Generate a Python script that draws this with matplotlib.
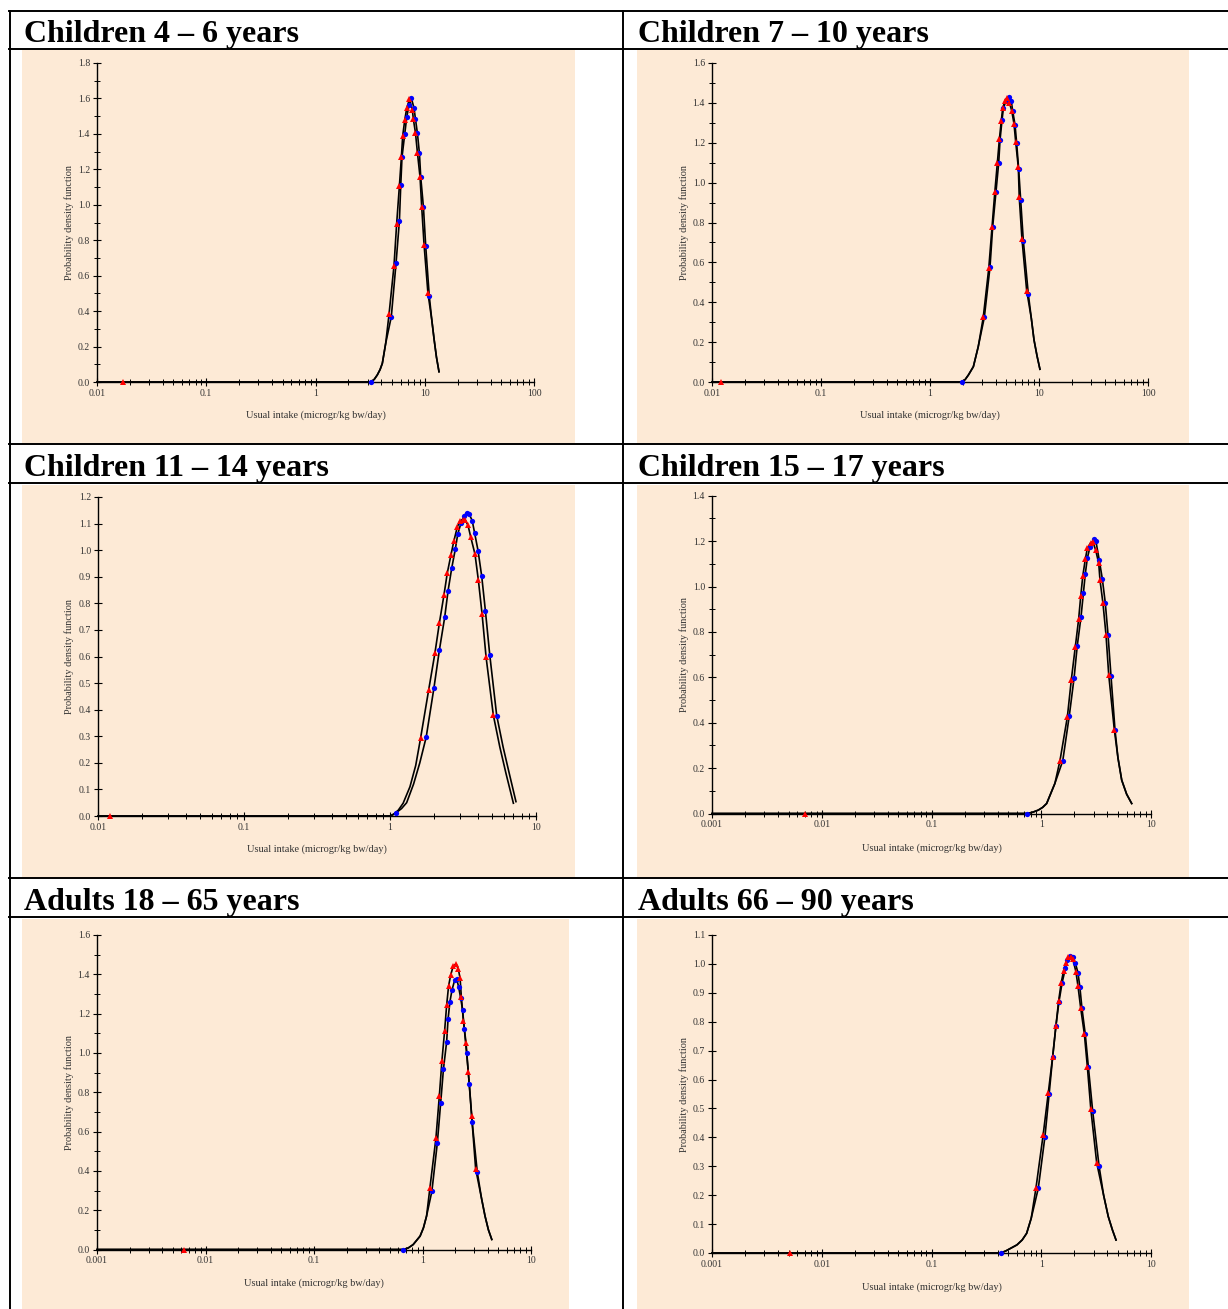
import matplotlib
matplotlib.use('Agg')
import matplotlib.pyplot as plt
from matplotlib.lines import Line2D
from matplotlib.patches import Rectangle
from matplotlib import ticker
import numpy as np

plt.rcParams['font.family'] = ['Liberation Serif', 'DejaVu Serif']

W, H = 1228, 1309
PEACH = '#FDEAD6'

titles = ['Children 4 \u2013 6 years', 'Children 7 \u2013 10 years',
          'Children 11 \u2013 14 years', 'Children 15 \u2013 17 years',
          'Adults 18 \u2013 65 years', 'Adults 66 \u2013 90 years']
x_label = 'Usual intake (microgr/kg bw/day)'
y_label = 'Probability density function'

# ---- Children 4-6 ----
p1_bx = [3.2, 4.94, 5.46, 5.86, 6.03, 6.19, 6.56, 6.84, 7.18, 7.55, 7.98, 8.22, 8.57, 8.94, 9.19, 9.73, 10.2, 11.0]
p1_by = [0.0, 0.368, 0.67, 0.909, 1.11, 1.268, 1.40, 1.494, 1.563, 1.60, 1.545, 1.484, 1.403, 1.29, 1.155, 0.986, 0.769, 0.485]
p1_rx = [0.0173, 4.71, 5.23, 5.53, 5.86, 6.11, 6.28, 6.56, 6.84, 7.24, 7.70, 7.87, 8.22, 8.57, 9.06, 9.38, 9.86, 10.7]
p1_ry = [0.0, 0.382, 0.656, 0.892, 1.106, 1.268, 1.388, 1.478, 1.545, 1.595, 1.535, 1.482, 1.407, 1.294, 1.155, 0.986, 0.773, 0.50]
p1_left = ([0.01, 3.2, 3.45, 3.68, 3.9, 4.09, 4.39], [0.0, 0.0, 0.015, 0.04, 0.07, 0.105, 0.218])
p1_right = ([11.6, 12.2, 12.8, 13.5], [0.35, 0.237, 0.14, 0.058])

# ---- Children 7-10 ----
p2_bx = [1.95, 3.15, 3.55, 3.76, 4.03, 4.27, 4.39, 4.58, 4.71, 4.98, 5.27, 5.57, 5.73, 6.03, 6.24, 6.51, 6.79, 7.18, 7.98]
p2_by = [0.0, 0.324, 0.575, 0.779, 0.954, 1.10, 1.214, 1.314, 1.372, 1.411, 1.431, 1.408, 1.361, 1.289, 1.197, 1.067, 0.913, 0.709, 0.441]
p2_rx = [0.0121, 3.08, 3.46, 3.71, 3.93, 4.15, 4.33, 4.51, 4.64, 4.88, 5.05, 5.35, 5.62, 5.90, 6.11, 6.46, 6.59, 6.98, 7.71]
p2_ry = [0.0, 0.324, 0.570, 0.779, 0.951, 1.10, 1.217, 1.31, 1.372, 1.411, 1.423, 1.401, 1.361, 1.294, 1.205, 1.077, 0.926, 0.716, 0.458]
p2_left = ([0.01, 1.95, 2.1, 2.25, 2.50, 2.77], [0.0, 0.0, 0.012, 0.035, 0.077, 0.177])
p2_right = ([8.5, 9.0, 9.6, 10.2], [0.32, 0.211, 0.13, 0.064])

# ---- Children 11-14 ----
p3_bx = [1.10, 1.77, 2.00, 2.18, 2.37, 2.50, 2.65, 2.80, 2.91, 3.06, 3.21, 3.35, 3.49, 3.66, 3.80, 4.01, 4.25, 4.50, 4.82, 5.38]
p3_by = [0.012, 0.297, 0.482, 0.625, 0.748, 0.848, 0.934, 1.003, 1.06, 1.101, 1.129, 1.141, 1.136, 1.11, 1.064, 0.998, 0.901, 0.773, 0.607, 0.378]
p3_rx = [0.0121, 1.62, 1.84, 2.03, 2.18, 2.34, 2.47, 2.61, 2.74, 2.89, 3.01, 3.14, 3.28, 3.42, 3.57, 3.82, 4.03, 4.27, 4.55, 5.10]
p3_ry = [0.0, 0.293, 0.474, 0.612, 0.727, 0.83, 0.915, 0.98, 1.035, 1.087, 1.11, 1.115, 1.113, 1.094, 1.05, 0.985, 0.887, 0.761, 0.598, 0.38]
p3_left_b = ([0.01, 1.0, 1.10, 1.20, 1.30, 1.45, 1.60], [0.0, 0.0, 0.012, 0.028, 0.05, 0.12, 0.2])
p3_left_r = ([0.01, 1.0, 1.05, 1.14, 1.23, 1.37, 1.50], [0.0, 0.0, 0.005, 0.022, 0.048, 0.11, 0.19])
p3_right_b = ([5.95, 6.56, 7.29], [0.26, 0.16, 0.054])
p3_right_r = ([5.65, 6.23, 7.0], [0.26, 0.16, 0.048])

# ---- Children 15-17 ----
p4_bx = [0.746, 1.57, 1.80, 1.99, 2.13, 2.30, 2.42, 2.52, 2.63, 2.78, 3.04, 3.15, 3.38, 3.60, 3.83, 4.06, 4.32, 4.70]
p4_by = [0.0, 0.232, 0.43, 0.596, 0.74, 0.864, 0.97, 1.056, 1.125, 1.174, 1.209, 1.199, 1.115, 1.034, 0.929, 0.787, 0.606, 0.368]
p4_rx = [0.00708, 1.48, 1.73, 1.88, 2.04, 2.19, 2.29, 2.39, 2.52, 2.63, 2.82, 2.95, 3.13, 3.34, 3.43, 3.65, 3.89, 4.12, 4.63]
p4_ry = [0.0, 0.232, 0.426, 0.59, 0.732, 0.855, 0.958, 1.046, 1.12, 1.168, 1.193, 1.197, 1.161, 1.102, 1.028, 0.926, 0.787, 0.61, 0.37]
p4_left = ([0.001, 0.746, 0.84, 0.94, 1.03, 1.12, 1.33], [0.0, 0.0, 0.006, 0.015, 0.027, 0.044, 0.132])
p4_right = ([5.0, 5.41, 6.0, 6.67], [0.245, 0.147, 0.085, 0.044])

# ---- Adults 18-65 ----
p5_bx = [0.666, 1.22, 1.37, 1.47, 1.56, 1.67, 1.72, 1.79, 1.87, 1.98, 2.07, 2.15, 2.25, 2.34, 2.43, 2.55, 2.70, 2.87, 3.20]
p5_by = [0.0, 0.296, 0.542, 0.745, 0.918, 1.058, 1.172, 1.261, 1.32, 1.371, 1.375, 1.337, 1.278, 1.219, 1.121, 0.999, 0.843, 0.647, 0.393]
p5_rx = [0.00634, 1.17, 1.33, 1.43, 1.51, 1.60, 1.67, 1.74, 1.82, 1.92, 2.04, 2.14, 2.22, 2.28, 2.38, 2.52, 2.64, 2.84, 3.09]
p5_ry = [0.0, 0.313, 0.567, 0.782, 0.96, 1.114, 1.244, 1.341, 1.397, 1.442, 1.453, 1.426, 1.38, 1.286, 1.165, 1.05, 0.905, 0.677, 0.41]
p5_left = ([0.001, 0.666, 0.74, 0.82, 0.95, 1.02, 1.09], [0.0, 0.0, 0.008, 0.025, 0.068, 0.11, 0.17])
p5_right = ([3.5, 3.77, 4.05, 4.35], [0.26, 0.17, 0.1, 0.051])

# ---- Adults 66-90 ----
p6_bx = [0.428, 0.94, 1.08, 1.18, 1.27, 1.36, 1.45, 1.55, 1.66, 1.73, 1.83, 1.94, 2.04, 2.16, 2.25, 2.35, 2.52, 2.69, 2.94, 3.36]
p6_by = [0.0, 0.224, 0.402, 0.55, 0.677, 0.785, 0.869, 0.935, 0.985, 1.013, 1.027, 1.025, 1.004, 0.97, 0.919, 0.846, 0.756, 0.642, 0.492, 0.302]
p6_rx = [0.00514, 0.896, 1.04, 1.16, 1.27, 1.36, 1.44, 1.52, 1.60, 1.68, 1.75, 1.85, 1.94, 2.07, 2.16, 2.29, 2.47, 2.63, 2.83, 3.20]
p6_ry = [0.0, 0.226, 0.408, 0.555, 0.679, 0.785, 0.872, 0.935, 0.977, 1.004, 1.023, 1.025, 1.016, 0.973, 0.924, 0.846, 0.758, 0.645, 0.497, 0.312]
p6_left = ([0.001, 0.428, 0.48, 0.60, 0.67, 0.736, 0.81], [0.0, 0.0, 0.008, 0.028, 0.045, 0.068, 0.12])
p6_right = ([3.7, 4.08, 4.45, 4.80], [0.2, 0.126, 0.08, 0.045])

# x decade ticks per panel
xt_01_100 = [0.01, 0.1, 1, 10, 100]
xl_01_100 = ['0.01', '0.1', '1', '10', '100']
xt_01_10 = [0.01, 0.1, 1, 10]
xl_01_10 = ['0.01', '0.1', '1', '10']
xt_001_10 = [0.001, 0.01, 0.1, 1, 10]
xl_001_10 = ['0.001', '0.01', '0.1', '1', '10']


def fx(x):
    return x / W


def fy(y):
    return 1 - y / H


fig = plt.figure(figsize=(W / 100, H / 100), dpi=100)
fig.patch.set_facecolor('white')

# table grid
lw_tab = 1.4
for y in [11, 48.5, 444, 483, 878, 917]:
    fig.add_artist(Line2D([fx(9), fx(1228)], [fy(y), fy(y)], color='black', lw=lw_tab,
                          transform=fig.transFigure))
for x in [10, 623]:
    fig.add_artist(Line2D([fx(x), fx(x)], [fy(11), fy(1309)], color='black', lw=lw_tab,
                          transform=fig.transFigure))

# peach backgrounds (x0, y0, x1, y1) in px
peach = [(22, 50, 575, 443), (637, 50, 1189, 443),
         (22, 485, 575, 877), (637, 485, 1189, 877),
         (22, 919, 569, 1309), (637, 919, 1189, 1309)]
for x0, y0, x1, y1 in peach:
    fig.add_artist(Rectangle((fx(x0), fy(y1)), fx(x1 - x0), (y1 - y0) / H,
                             facecolor=PEACH, edgecolor='none', transform=fig.transFigure,
                             zorder=0))

# titles
title_pos = [(24, 42), (638, 42), (24, 476), (638, 476), (24, 910), (638, 910)]
for t, (x, y) in zip(titles, title_pos):
    fig.text(fx(x), fy(y), t, fontsize=23, fontweight='bold', va='baseline', ha='left')


def panel(box, xlim, xt, xl, ymax, ystep, ylab_every, blue, red, lines, ylab_x, xlab_y):
    x0, x1, y0, y1 = box  # px: left, right, y at 0, y at ymax
    ax = fig.add_axes([fx(x0), fy(y0), (x1 - x0) / W, (y0 - y1) / H])
    ax.set_xscale('log')
    ax.set_xlim(*xlim)
    ax.set_ylim(0, ymax)
    ax.patch.set_alpha(0)
    for s in ['top', 'right']:
        ax.spines[s].set_visible(False)
    for s in ['left', 'bottom']:
        ax.spines[s].set_linewidth(1.0)
    ax.xaxis.set_major_locator(ticker.FixedLocator(xt))
    ax.xaxis.set_major_formatter(ticker.FixedFormatter(xl))
    ax.xaxis.set_minor_locator(ticker.LogLocator(base=10, subs=np.arange(2, 10)))
    ax.xaxis.set_minor_formatter(ticker.NullFormatter())
    yv = np.round(np.arange(0, ymax + 1e-9, ystep), 2)
    major = yv[::ylab_every]
    ax.yaxis.set_major_locator(ticker.FixedLocator(major))
    ax.yaxis.set_major_formatter(ticker.FixedFormatter([f'{v:.1f}' for v in major]))
    ax.yaxis.set_minor_locator(ticker.FixedLocator(yv))
    ax.tick_params(which='major', direction='inout', length=6, width=0.8,
                   labelsize=7, labelcolor='#333333', pad=2)
    ax.tick_params(which='minor', direction='inout', length=4, width=0.7)

    for lx, ly in lines:
        ax.plot(lx, ly, color='black', lw=1.2, zorder=2, clip_on=False)
    ax.plot(blue[0], blue[1], 'o', color='#0000FF', ms=3.8, mew=0, zorder=3, clip_on=False)
    ax.plot(red[0], red[1], '^', color='#FF0000', ms=4.6, mew=0, zorder=4, clip_on=False)

    fig.text(fx(ylab_x), fy((y0 + y1) / 2), y_label, rotation=90, fontsize=7.4,
             color='#333333', ha='center', va='center')
    fig.text(fx((x0 + x1) / 2), fy(xlab_y), x_label, fontsize=7.4,
             color='#333333', ha='center', va='center')
    return ax


def curve(left, pts_x, pts_y, right):
    # the markers sitting on each curve, joined with its tails
    keep = [(x, y) for x, y in zip(pts_x, pts_y) if left[0][-1] < x < right[0][0]]
    xs = list(left[0]) + [x for x, _ in keep] + list(right[0])
    ys = list(left[1]) + [y for _, y in keep] + list(right[1])
    return xs, ys


panel((97, 534, 382, 63), (0.01, 100), xt_01_100, xl_01_100, 1.8, 0.1, 2,
      (p1_bx, p1_by), (p1_rx, p1_ry),
      [curve(p1_left, p1_bx, p1_by, p1_right), curve(p1_left, p1_rx, p1_ry, p1_right)],
      69, 415)
panel((712, 1148, 382, 63), (0.01, 100), xt_01_100, xl_01_100, 1.6, 0.1, 2,
      (p2_bx, p2_by), (p2_rx, p2_ry),
      [curve(p2_left, p2_bx, p2_by, p2_right), curve(p2_left, p2_rx, p2_ry, p2_right)],
      684, 415)
panel((98, 536, 816, 497), (0.01, 10), xt_01_10, xl_01_10, 1.2, 0.1, 1,
      (p3_bx, p3_by), (p3_rx, p3_ry),
      [curve(p3_left_b, p3_bx, p3_by, p3_right_b), curve(p3_left_r, p3_rx, p3_ry, p3_right_r)],
      69, 849)
panel((712, 1151, 813.5, 495.7), (0.001, 10), xt_001_10, xl_001_10, 1.4, 0.1, 2,
      (p4_bx, p4_by), (p4_rx, p4_ry),
      [curve(p4_left, p4_bx, p4_by, p4_right), curve(p4_left, p4_rx, p4_ry, p4_right)],
      684, 848)
panel((97, 531, 1249.5, 935), (0.001, 10), xt_001_10, xl_001_10, 1.6, 0.1, 2,
      (p5_bx, p5_by), (p5_rx, p5_ry),
      [curve(p5_left, p5_bx, p5_by, p5_right), curve(p5_left, p5_rx, p5_ry, p5_right)],
      69, 1283)
panel((712, 1151, 1253, 935), (0.001, 10), xt_001_10, xl_001_10, 1.1, 0.1, 1,
      (p6_bx, p6_by), (p6_rx, p6_ry),
      [curve(p6_left, p6_bx, p6_by, p6_right), curve(p6_left, p6_rx, p6_ry, p6_right)],
      684, 1287)

fig.savefig('out.png', dpi=100, facecolor='white')
